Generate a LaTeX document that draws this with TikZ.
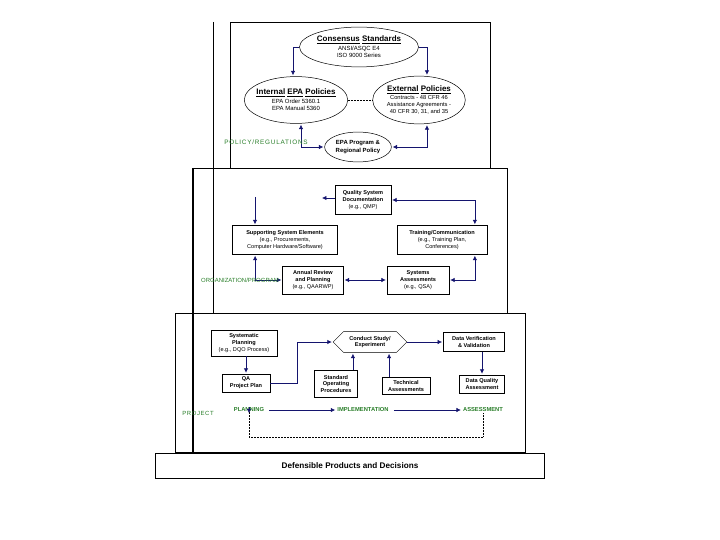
\documentclass[tikz,border=0pt]{standalone}
\usepackage{fontspec}
\setmainfont{Liberation Sans}
\usetikzlibrary{shapes.geometric,shapes.symbols,arrows.meta}
\definecolor{navy}{RGB}{20,20,110}
\definecolor{lblgreen}{RGB}{40,125,40}
\newcommand{\fsz}[2]{\fontsize{#1}{#2}\selectfont}
\tikzset{
  ar/.style={draw=navy, line width=0.7pt, -{Latex[length=4.5pt,width=4.5pt]}, shorten >=1pt},
  arb/.style={ar, {Latex[length=4.5pt,width=4.5pt]}-{Latex[length=4.5pt,width=4.5pt]}, shorten <=1pt},
  box/.style={draw, line width=0.5pt, fill=white, align=center, inner sep=0.5pt, font=\fsz{5.6}{6.9}},
  ell/.style={draw, ellipse, line width=0.5pt, fill=white, align=center, inner sep=0pt, font=\fsz{6}{7.2}},
  frame/.style={draw, line width=0.5pt},
  sidelbl/.style={text=lblgreen, font=\fsz{6}{7}, inner sep=0pt},
  phaselbl/.style={text=lblgreen, font=\bfseries\fsz{5.8}{7}, inner sep=1pt},
  dotl/.style={draw, densely dotted, line width=0.5pt}
}
\begin{document}
\begin{tikzpicture}[x=1bp,y=-1bp]
\useasboundingbox (0,0) rectangle (720,540);

% frames
\draw[frame] (230,22) rectangle (490,168);
\draw[frame] (213,22) -- (213,313);
\draw[frame] (193,168) -- (507,168) -- (507,313) -- (193,313);
\draw[frame] (175,313) rectangle (525,452);
\draw[line width=1.3pt] (193,168) -- (193,452);
\node[frame, fill=white, minimum width=390, minimum height=25, inner sep=0pt,
      font=\bfseries\fsz{8.2}{9}] (banner) at (350,465.5) {Defensible Products and Decisions};

% ---------- policy level ----------
\node[ell, minimum width=108, minimum height=40] (cons) at (359,47)
  {{\bfseries\fsz{8}{9}\underline{Consensus} \underline{Standards}}\\[1.5pt]ANSI/ASQC E4\\ISO 9000 Series};
\node[ell, minimum width=102, minimum height=47, inner xsep=-3pt] (intl) at (296,100)
  {{\bfseries\fsz{8}{9}\underline{Internal} \underline{EPA} \underline{Policies}}\\[1.5pt]EPA Order 5360.1\\EPA Manual 5360};
\node[ell, minimum width=93, minimum height=48, inner xsep=-6pt, inner ysep=-4pt,
      font=\fsz{5.8}{6.8}] (extl) at (419,100)
  {{\bfseries\fsz{8}{9}\underline{External} \underline{Policies}}\\[1.5pt]Contracts - 48 CFR 46\\Assistance Agreements -\\40 CFR 30, 31, and 35};
\node[ell, minimum width=67, minimum height=30, font=\bfseries\fsz{6}{7.4}] (prog) at (358,147)
  {EPA Program \&\\Regional Policy};

\draw[ar] (cons.west) -| ([xshift=-3pt]intl.north);
\draw[ar] (cons.east) -| ([xshift=8pt]extl.north);
\draw[dotl] (intl.east) -- (extl.west);
\draw[arb] ([xshift=5pt]intl.south) |- (prog.west);
\draw[arb] ([xshift=8pt]extl.south) |- (prog.east);

\node[sidelbl, font=\addfontfeature{LetterSpace=12}\fsz{6.4}{7}] (lblpol) at (266,142) {POLICY/REGULATIONS};

% ---------- organization / program level ----------
\node[box, minimum width=56, minimum height=29] (qsd) at (363,200)
  {\textbf{Quality System}\\\textbf{Documentation}\\(e.g., QMP)};
\node[box, minimum width=105, minimum height=29] (sse) at (285,240)
  {\textbf{Supporting System Elements}\\(e.g., Procurements,\\Computer Hardware/Software)};
\node[box, minimum width=90, minimum height=29] (trn) at (442,240)
  {\textbf{Training/Communication}\\(e.g., Training Plan,\\Conferences)};
\node[box, minimum width=61, minimum height=28] (ann) at (313,280)
  {\textbf{Annual Review}\\\textbf{and Planning}\\(e.g., QAARWP)};
\node[box, minimum width=62, minimum height=28] (sysa) at (418,280)
  {\textbf{Systems}\\\textbf{Assessments}\\(e.g., QSA)};

\coordinate (stub) at (321,198);
\coordinate (sseTop) at (255,197);
\draw[ar] (qsd.west |- stub) -- (stub);
\draw[ar] (sseTop) -- (sseTop |- sse.north);
\draw[arb] (qsd.east) -| ([xshift=33pt]trn.north);
\draw[arb] ([xshift=-30pt]sse.south) |- (ann.west);
\draw[arb] (ann.east) -- (sysa.west);
\draw[arb] (sysa.east) -| ([xshift=33pt]trn.south);

\node[sidelbl] (lblorg) at (240,280) {ORGANIZATION/PROGRAM};

% ---------- project level ----------
\node[box, minimum width=66, minimum height=26] (sp) at (244,343)
  {\textbf{Systematic}\\\textbf{Planning}\\(e.g., DQO Process)};
\node[box, minimum width=48, minimum height=18] (qapp) at (246,383)
  {\textbf{QA}\\\textbf{Project Plan}};
\node[draw, signal, signal to=west and east, line width=0.5pt, fill=white,
      minimum width=74, minimum height=21, inner sep=0.5pt, align=center,
      font=\bfseries\fsz{5.6}{6.9}] (hex) at (370,342)
  {Conduct Study/\\Experiment};
\node[box, minimum width=43, minimum height=27] (sop) at (336,384)
  {\textbf{Standard}\\\textbf{Operating}\\\textbf{Procedures}};
\node[box, minimum width=48, minimum height=17] (tech) at (406,386)
  {\textbf{Technical}\\\textbf{Assessments}};
\node[box, line width=1pt, minimum width=61, minimum height=19] (dvv) at (474,342)
  {\textbf{Data Verification}\\\textbf{\& Validation}};
\node[box, minimum width=45, minimum height=18] (dqa) at (482,384)
  {\textbf{Data Quality}\\\textbf{Assessment}};

\draw[ar] (sp.south -| qapp.north) -- (qapp.north);
\draw[ar] (qapp.east) -- ++(27,0) |- (hex.west);
\draw[ar] ([xshift=17pt]sop.north) -- ([xshift=17pt]sop.north |- hex.south);
\draw[ar] ([xshift=-17pt]tech.north) -- ([xshift=-17pt]tech.north |- hex.south);
\draw[ar] (hex.east) -- (dvv.west);
\draw[ar] (dqa.north |- dvv.south) -- (dqa.north);

\node[phaselbl] (plan) at (249,410) {PLANNING};
\node[phaselbl] (impl) at (363,410) {IMPLEMENTATION};
\node[phaselbl] (asmt) at (483,410) {ASSESSMENT};
\draw[ar, shorten <=4pt] (plan.east) -- (impl.west);
\draw[ar, shorten <=4pt] (impl.east) -- (asmt.west);
\coordinate (loopR) at (483,437);
\draw[dotl] (asmt.south) -- (loopR) -| ([yshift=6pt]plan.south);
\draw[ar, shorten >=0pt] ([yshift=6pt]plan.south) -- (plan.south);

\node[sidelbl, font=\addfontfeature{LetterSpace=10}\fsz{6}{7}] (lblproj) at (198,413) {PROJECT};
\end{tikzpicture}
\end{document}
